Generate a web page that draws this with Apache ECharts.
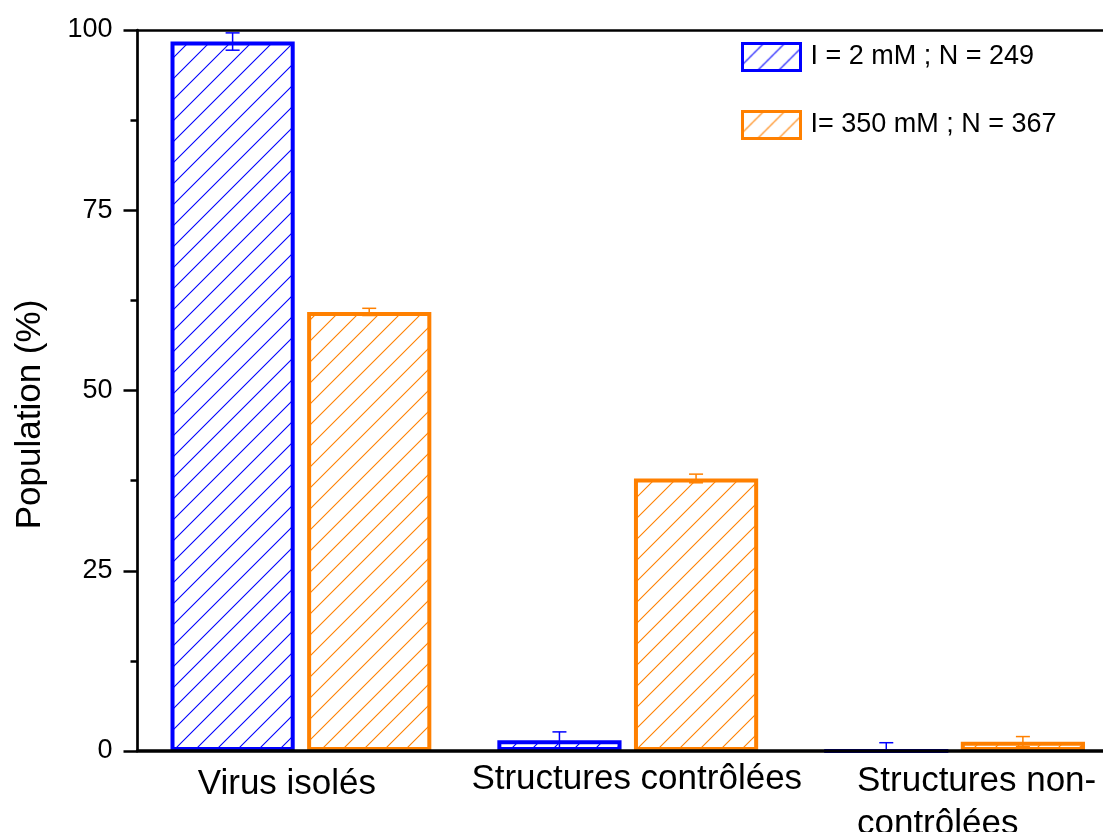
<!DOCTYPE html>
<html>
<head>
<meta charset="utf-8">
<script src="https://cdn.jsdelivr.net/npm/echarts@6/dist/echarts.min.js"></script>
<style>
html,body{margin:0;padding:0;background:#fff;overflow:hidden;}
#chart{width:1103px;height:832px;}
</style>
</head>
<body>
<div id="chart"></div>
<script>
// ---- data ----
var categories = ['Virus isolés', 'Structures contrôlées', 'Structures non-\ncontrôlées'];
var seriesNames = ['I = 2 mM ; N = 249', 'I= 350 mM ; N = 367'];
var blueValues = [98.4, 1.5, 0];
var blueErrors = [1.2, 1.15, 1.15];
var orangeValues = [60.9, 37.8, 1.3];
var orangeErrors = [0.5, 0.6, 0.7];
var yTicks = [0, 25, 50, 75, 100];

// ---- styles ----
var BLUE = '#0000ff';
var ORANGE = '#ff8000';
var FONT = 'Liberation Sans, Arial, sans-serif';

function hatch(color) {
  var s = 21;
  var c = document.createElement('canvas');
  c.width = s; c.height = s;
  var g = c.getContext('2d');
  g.fillStyle = '#ffffff';
  g.fillRect(0, 0, s, s);
  g.strokeStyle = color;
  g.lineWidth = 1.1;
  g.beginPath();
  g.moveTo(-1, s + 1); g.lineTo(s + 1, -1);
  g.moveTo(-2, 2); g.lineTo(2, -2);
  g.moveTo(s - 2, s + 2); g.lineTo(s + 2, s - 2);
  g.stroke();
  return { image: c, repeat: 'repeat' };
}

function errorSeries(values, errors, color, sign) {
  var data = values.map(function (v, i) { return [i, v, errors[i]]; });
  return {
    type: 'custom',
    clip: true,
    z: 4,
    silent: true,
    data: data,
    renderItem: function (params, api) {
      var idx = api.value(0);
      var v = api.value(1);
      var e = api.value(2);
      var band = api.size([1, 0])[0];
      var barW = band * 0.38;
      var off = sign * (barW / 2 + barW * 0.05);
      var top = api.coord([idx, v + e]);
      var bot = api.coord([idx, v - e]);
      var x = top[0] + off;
      var cw = 7;
      var st = { stroke: color, lineWidth: 1.5 };
      return {
        type: 'group',
        children: [
          { type: 'line', shape: { x1: x, y1: top[1], x2: x, y2: bot[1] }, style: st },
          { type: 'line', shape: { x1: x - cw, y1: top[1], x2: x + cw, y2: top[1] }, style: st },
          { type: 'line', shape: { x1: x - cw, y1: bot[1], x2: x + cw, y2: bot[1] }, style: st }
        ]
      };
    }
  };
}

var chart = echarts.init(document.getElementById('chart'), null, { renderer: 'canvas', width: 1103, height: 832 });

var option = {
  backgroundColor: '#ffffff',
  animation: false,
  textStyle: { fontFamily: FONT, color: '#000' },
  grid: { left: 137.5, right: -15, top: 30, bottom: 81, containLabel: false, outerBoundsMode: 'none' },
  legend: {
    orient: 'vertical',
    left: 741,
    top: 42,
    padding: 0,
    itemWidth: 58,
    itemHeight: 27,
    itemGap: 38,
    icon: 'rect',
    data: seriesNames,
    itemStyle: { borderWidth: 3 },
    textStyle: { fontFamily: FONT, fontSize: 27, color: '#000', padding: [0, 0, 0, 5] }
  },
  xAxis: [{
    type: 'category',
    data: categories,
    z: 5,
    axisLine: { show: true, lineStyle: { color: '#000', width: 3.6 } },
    axisTick: { show: false },
    axisLabel: {
      interval: 0,
      margin: 9,
      color: '#000',
      fontFamily: FONT,
      fontSize: 35,
      formatter: function (val, i) {
        if (i === 2) {
          var parts = val.split('\n');
          return '{c|' + parts[0] + '}\n{c|' + parts[1] + '}';
        }
        return '{l' + i + '|' + val + '}';
      },
      rich: {
        l0: { fontFamily: FONT, fontSize: 35, color: '#000', padding: [7, 28, 0, 0] },
        l1: { fontFamily: FONT, fontSize: 35, color: '#000', padding: [2, 0, 0, 18] },
        c: { fontFamily: FONT, fontSize: 35, color: '#000', align: 'left', lineHeight: 43, padding: [0, 0, 0, 44] }
      }
    },
    splitLine: { show: false }
  }, {
    type: 'category',
    data: categories,
    position: 'top',
    z: 5,
    axisLine: { show: true, lineStyle: { color: '#000', width: 2.5 } },
    axisTick: { show: false },
    axisLabel: { show: false },
    splitLine: { show: false }
  }],
  yAxis: {
    type: 'value',
    min: 0,
    max: 100,
    interval: 25,
    z: 5,
    name: 'Population (%)',
    nameLocation: 'middle',
    nameGap: 90,
    nameTextStyle: { fontFamily: FONT, fontSize: 35, color: '#000', padding: [0, 48, 0, 0] },
    axisLine: { show: true, lineStyle: { color: '#000', width: 2.7 } },
    axisTick: { show: true, inside: false, length: 14, lineStyle: { color: '#000', width: 2.5 } },
    minorTick: { show: true, splitNumber: 2, length: 7, lineStyle: { color: '#000', width: 2.5 } },
    axisLabel: {
      margin: 25,
      color: '#000',
      fontFamily: FONT,
      fontSize: 27,
      formatter: function (v) { return yTicks.indexOf(v) >= 0 ? String(v) : ''; }
    },
    splitLine: { show: false },
    minorSplitLine: { show: false }
  },
  series: [{
    name: seriesNames[0],
    type: 'bar',
    data: blueValues,
    barWidth: '38%',
    barGap: '10%',
    itemStyle: { color: hatch(BLUE), borderColor: BLUE, borderWidth: 4 }
  }, {
    name: seriesNames[1],
    type: 'bar',
    data: orangeValues,
    barWidth: '38%',
    barGap: '10%',
    itemStyle: { color: hatch(ORANGE), borderColor: ORANGE, borderWidth: 4 }
  },
  errorSeries(blueValues, blueErrors, BLUE, -1),
  errorSeries(orangeValues, orangeErrors, ORANGE, 1)
  ]
};

chart.setOption(option);
</script>
</body>
</html>
